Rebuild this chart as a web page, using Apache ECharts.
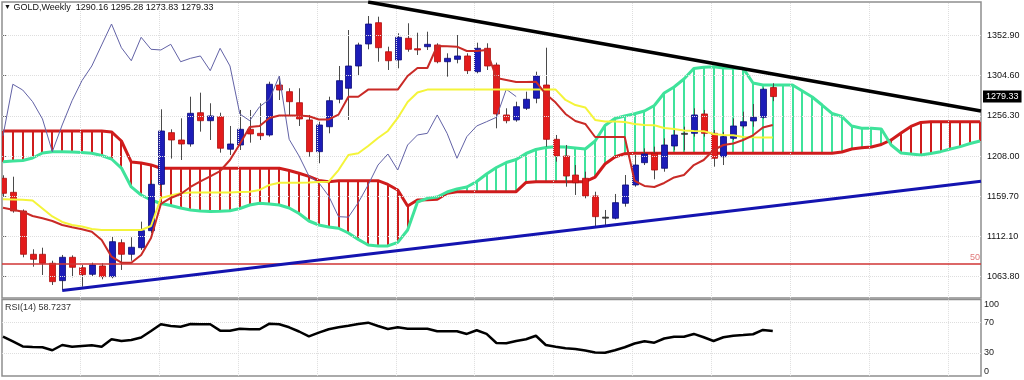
<!DOCTYPE html>
<html><head><meta charset="utf-8">
<script src="https://cdn.jsdelivr.net/npm/echarts@6/dist/echarts.min.js"></script>
<style>html,body{margin:0;padding:0;background:#fff}#c{width:1024px;height:380px}</style>
</head><body><div id="c"></div>
<script>
// ---------- DATA ----------
const symbolName = 'GOLD,Weekly';
const opens = [1181.4,1164.6,1142.2,1090.3,1090.3,1079.5,1058.7,1086.7,1074.2,1066.3,
1076.3,1063.5,1104.2,1090.3,1098.2,1118.6,1174.2,1236.1,1227.3,1222.5,
1260.0,1250.4,1255.2,1216.2,1221.3,1240.1,1235.3,1233.3,1293.2,1285.2,
1272.0,1251.3,1213.3,1243.2,1276.1,1289.3,1316.0,1342.4,1367.9,1333.1,
1323.2,1349.2,1336.7,1339.1,1341.2,1321.1,1324.0,1328.0,1309.2,1337.2,
1317.2,1257.3,1251.3,1265.3,1277.3,1293.2,1228.1,1208.1,1185.3,1181.4,
1160.2,1134.6,1133.5,1151.4,1173.4,1200.1,1211.3,1193.4,1220.1,1234.5,
1235.3,1258.5,1235.3,1207.3,1229.3,1244.1,1250.1,1254.5,1290.16];
const highs = [1185.0,1183.3,1144.0,1096.3,1098.2,1082.6,1089.5,1089.0,1077.5,1080.3,
1079.5,1112.2,1108.3,1110.7,1129.4,1179.4,1264.1,1240.1,1253.3,1279.2,
1284.0,1271.3,1260.0,1244.1,1263.3,1263.3,1271.3,1297.2,1304.0,1289.3,
1289.3,1257.3,1249.2,1279.2,1316.0,1359.1,1343.9,1375.9,1375.1,1339.1,
1355.2,1367.2,1355.9,1357.1,1343.2,1331.2,1353.1,1331.2,1343.9,1343.2,
1320.0,1265.3,1273.2,1285.2,1309.2,1337.9,1233.3,1221.3,1197.3,1189.3,
1165.3,1143.4,1162.6,1185.3,1209.3,1217.3,1219.3,1229.3,1241.3,1243.2,
1265.3,1263.3,1239.3,1237.0,1253.3,1261.2,1270.4,1290.0,1295.28];
const lows = [1160.0,1140.2,1086.7,1075.4,1065.5,1053.5,1047.5,1062.7,1051.5,1063.5,
1060.3,1061.5,1071.5,1082.6,1095.5,1115.5,1165.0,1205.0,1203.3,1219.3,
1237.3,1227.3,1212.1,1209.3,1215.3,1224.1,1227.3,1231.3,1275.2,1256.1,
1244.1,1207.3,1199.4,1235.3,1271.3,1251.3,1305.2,1336.0,1321.1,1311.2,
1313.2,1333.1,1329.2,1335.2,1319.2,1303.2,1319.2,1306.4,1307.2,1311.2,
1241.3,1247.3,1249.2,1263.3,1271.3,1219.3,1201.3,1171.3,1161.4,1157.4,
1122.7,1125.4,1132.2,1147.4,1171.3,1197.3,1180.2,1189.3,1215.0,1215.0,
1231.3,1231.3,1195.3,1197.3,1227.3,1241.3,1243.2,1253.0,1273.83];
const closes = [1163.4,1142.2,1090.3,1084.3,1079.5,1057.5,1086.7,1074.7,1065.9,1077.5,
1063.5,1105.4,1090.3,1098.7,1118.6,1174.2,1238.1,1227.3,1222.5,1259.3,
1250.4,1256.1,1217.4,1222.5,1240.1,1234.5,1232.4,1294.1,1287.2,1273.2,
1252.5,1213.3,1245.3,1274.4,1298.4,1316.0,1341.2,1366.3,1337.9,1322.3,
1350.4,1336.0,1335.2,1342.0,1321.1,1325.2,1328.0,1310.4,1337.2,1316.0,
1258.5,1250.4,1267.2,1276.1,1304.0,1228.1,1208.1,1184.1,1176.1,1160.2,
1135.4,1134.8,1152.2,1173.4,1197.3,1210.5,1191.3,1221.3,1233.3,1235.3,
1257.3,1235.3,1205.4,1231.3,1244.1,1249.2,1254.5,1288.1,1279.33];
const tenkan = [1146.2,1143.8,1141.4,1136.2,1133.5,1130.2,1125.4,1122.7,1120.3,1117.4,
1107.5,1087.4,1080.2,1080.2,1089.5,1109.9,1150.6,1157.8,1162.6,1171.0,
1177.6,1183.6,1190.1,1203.3,1222.5,1242.9,1244.1,1253.7,1256.7,1256.7,
1256.7,1255.7,1251.9,1251.9,1257.7,1279.2,1279.2,1287.7,1287.7,1287.7,
1287.7,1304.0,1313.6,1313.6,1340.0,1339.6,1339.2,1334.0,1334.0,1335.2,
1301.6,1299.2,1296.8,1296.8,1297.2,1282.4,1272.2,1258.5,1250.1,1246.5,
1230.9,1230.9,1230.9,1230.9,1178.2,1172.2,1171.0,1175.8,1182.4,1185.3,
1197.3,1203.3,1215.3,1221.3,1223.1,1227.3,1232.9,1242.3,1245.3];
const kijun = [1156.2,1156.0,1155.8,1154.8,1145.2,1135.6,1129.0,1125.4,1123.6,1120.6,
1119.4,1119.4,1119.4,1119.4,1119.4,1124.2,1157.8,1160.8,1163.4,1164.4,
1164.4,1164.4,1164.4,1164.4,1165.0,1165.3,1167.4,1173.4,1176.1,1176.1,
1176.1,1176.4,1176.9,1177.3,1191.3,1209.3,1211.4,1220.1,1229.7,1238.1,
1253.7,1272.9,1284.2,1287.7,1287.7,1287.7,1287.7,1287.7,1287.7,1287.7,
1287.7,1287.7,1287.7,1287.7,1287.7,1287.7,1287.7,1275.3,1269.2,1266.3,
1251.3,1249.4,1249.4,1248.9,1246.5,1245.3,1244.9,1241.7,1240.5,1238.7,
1238.1,1237.9,1234.5,1233.3,1232.9,1230.9,1230.5,1230.3,1230.2];
// cloud boundaries (already shifted forward, bars 0..99)
const spanRed = [1238.1,1238.1,1238.1,1238.1,1238.1,1238.1,1238.1,1238.1,1238.1,1238.1,
1238.1,1236.9,1226.1,1200.9,1199.8,1197.4,1193.4,1193.4,1193.4,1193.4,
1193.4,1193.4,1193.4,1193.4,1193.4,1193.4,1193.4,1193.4,1193.4,1190.8,
1187.4,1183.6,1178.8,1177.3,1178.5,1178.5,1178.5,1178.5,1178.5,1174.0,
1167.4,1148.2,1155.4,1155.8,1156.2,1163.4,1165.3,1165.3,1165.3,1165.3,
1165.3,1165.3,1165.3,1176.4,1177.3,1177.3,1177.3,1177.3,1177.3,1177.3,
1182.9,1198.5,1206.9,1210.9,1211.4,1211.4,1211.4,1211.4,1211.4,1211.4,
1211.4,1211.4,1211.4,1211.4,1211.4,1211.4,1211.4,1211.4,1211.4,1211.4,
1211.4,1211.4,1211.4,1211.4,1211.4,1212.9,1216.5,1218.0,1218.9,1221.9,
1227.3,1235.7,1243.5,1248.3,1249.2,1249.2,1249.2,1249.2,1249.2,1249.2];
const spanGreen = [1201.3,1202.1,1202.7,1205.7,1211.7,1213.3,1213.3,1212.9,1212.3,1211.4,
1208.7,1204.5,1193.7,1171.0,1161.4,1155.4,1151.2,1148.8,1145.8,1143.4,
1142.2,1141.6,1141.9,1142.4,1145.2,1149.4,1151.4,1150.6,1149.4,1145.8,
1139.2,1130.2,1125.4,1123.0,1121.5,1115.8,1108.1,1101.5,1100.3,1100.3,
1104.5,1119.4,1153.0,1157.4,1159.0,1165.0,1168.6,1171.0,1177.6,1186.6,
1194.3,1200.3,1203.9,1211.1,1215.9,1218.3,1219.3,1218.9,1217.7,1216.5,
1226.1,1244.7,1253.1,1256.1,1258.7,1262.1,1268.7,1283.6,1290.8,1300.4,
1313.0,1314.6,1315.2,1313.6,1313.2,1313.2,1295.6,1293.2,1293.2,1293.2,
1293.2,1286.0,1278.8,1269.2,1259.1,1255.5,1244.1,1241.3,1241.3,1240.5,
1221.3,1211.7,1210.5,1209.3,1211.1,1213.3,1216.5,1219.3,1223.1,1226.1];
const rsi = [51.4,45.1,38.6,37.9,37.5,33.6,40.5,38.3,39.2,40.1,
38.3,48.0,45.8,47.1,50.4,58.9,67.7,65.4,64.5,68.1,
67.7,67.7,59.3,59.3,61.9,61.1,61.1,68.5,67.7,63.7,
58.2,51.7,56.7,61.1,63.7,65.7,68.1,69.8,65.4,61.5,
63.7,61.9,61.9,61.9,58.5,58.5,58.5,55.0,59.8,55.0,
43.1,42.8,45.8,48.0,52.6,40.5,38.3,36.2,35.3,33.3,
30.7,30.4,33.6,37.5,42.5,45.5,43.5,49.0,51.4,51.4,
55.0,50.6,45.8,50.6,52.7,53.6,54.6,60.2,58.7237];
const chikouShift = 26;                       // Ichimoku lagging span period
const resistanceLine = [[37, 1392.7], [99.1, 1262.1]];
const supportLine = [[6, 1046.9], [99.1, 1177.8]];
const levelPrice = 1079.5;
const levelName = '50';
const priceTicks = [1352.90, 1304.60, 1256.30, 1208.00, 1159.70, 1112.10, 1063.80];
const rsiTicks = [0, 30, 70, 100];
const rsiLevels = [30, 70];
const gridBars = [7.8, 15.8, 23.8, 31.8, 39.8, 47.8, 55.8, 63.8, 71.8, 79.8, 87.8, 95.8];

// ---------- BUILD ----------
const FONT = "Tahoma, 'Liberation Sans', Arial, sans-serif";
const XMIN = -0.1, XMAX = 99.1;
const last = closes.length - 1;
const header = symbolName + '  ' + [opens[last], highs[last], lows[last], closes[last]].map(v => v.toFixed(2)).join(' ');
const idx = a => a.map((v, i) => [i, v]);
const candleData = opens.map((o, i) => [i, o, highs[i], lows[i], closes[i]]);
const cloudData = spanRed.map((a, i) => [i, a, spanGreen[i]]);
const chikouData = closes.slice(chikouShift).map((v, i) => [i, v]);

const RED_C = '#cf1c1c', GREEN_C = '#3fe39b';
const gridStyle = {type: 'dotted', color: '#dedede', width: 1};
const gridMarks = h => h.map(v => ({yAxis: v})).concat(gridBars.map(b => ({xAxis: b})));

const chart = echarts.init(document.getElementById('c'), null, {renderer: 'canvas'});
chart.setOption({
  animation: false,
  backgroundColor: '#fff',
  textStyle: {fontFamily: FONT},
  title: [
    {left: 4, top: 3, padding: 0, text: '{t|▼} ' + header,
     textStyle: {fontSize: 9, fontWeight: 'normal', color: '#111', fontFamily: FONT,
       rich: {t: {fontSize: 7, color: '#111'}}}},
    {left: 5, top: 303, padding: 0, text: 'RSI(14) ' + rsi[last].toFixed(4),
     textStyle: {fontSize: 9, fontWeight: 'normal', color: '#333', fontFamily: FONT}}
  ],
  grid: [
    {left: 2, right: 43, top: 2, height: 296, show: true, borderColor: '#8e8e8e', borderWidth: 1.5},
    {left: 2, right: 43, top: 299.6, height: 76.3, show: true, borderColor: '#8e8e8e', borderWidth: 1.5}
  ],
  xAxis: [
    {type: 'value', gridIndex: 0, min: XMIN, max: XMAX, show: false},
    {type: 'value', gridIndex: 1, min: XMIN, max: XMAX, show: false}
  ],
  yAxis: [
    {type: 'value', gridIndex: 0, position: 'right', min: 1037.9, max: 1392.7,
     axisLine: {show: false}, splitLine: {show: false},
     axisTick: {show: true, customValues: priceTicks, length: 4, lineStyle: {color: '#666'}},
     axisLabel: {customValues: priceTicks, formatter: v => v.toFixed(2), color: '#111',
       fontSize: 9, fontFamily: FONT, margin: 6}},
    {type: 'value', gridIndex: 1, position: 'right', min: 0, max: 100, interval: 10,
     axisLine: {show: false}, splitLine: {show: false}, axisTick: {show: false},
     axisLabel: {formatter: v => rsiTicks.indexOf(v) >= 0 ? String(v) : '',
       showMinLabel: true, showMaxLabel: true,
       verticalAlignMinLabel: 'bottom', verticalAlignMaxLabel: 'top',
       color: '#222', fontSize: 9, fontFamily: FONT, margin: 3}}
  ],
  series: [
    {name: 'grid', type: 'line', xAxisIndex: 0, yAxisIndex: 0, data: [], silent: true, z: 1,
     markLine: {silent: true, symbol: ['none', 'none'], label: {show: false}, lineStyle: gridStyle, data: gridMarks(priceTicks)}},
    {name: 'rsiGrid', type: 'line', xAxisIndex: 1, yAxisIndex: 1, data: [], silent: true, z: 1,
     markLine: {silent: true, symbol: ['none', 'none'], label: {show: false}, lineStyle: gridStyle, data: gridMarks(rsiLevels)}},
    {name: 'cloud', type: 'custom', xAxisIndex: 0, yAxisIndex: 0, clip: true, z: 2, silent: true,
     data: cloudData, encode: {x: 0, y: [1, 2]},
     renderItem: function (params, api) {
       const i = api.value(0), a = api.value(1), b = api.value(2);
       const pa = api.coord([i, a]), pb = api.coord([i, b]);
       const x = Math.round(pa[0]);
       return {type: 'line', shape: {x1: x, y1: pa[1], x2: x, y2: pb[1]},
         style: {stroke: a >= b ? RED_C : GREEN_C, lineWidth: 2}};
     }},
    {name: 'spanRed', type: 'line', xAxisIndex: 0, yAxisIndex: 0, data: idx(spanRed), symbol: 'none',
     lineStyle: {color: RED_C, width: 3}, z: 3},
    {name: 'spanGreen', type: 'line', xAxisIndex: 0, yAxisIndex: 0, data: idx(spanGreen), symbol: 'none',
     lineStyle: {color: GREEN_C, width: 3}, z: 3},
    {name: 'candles', type: 'custom', xAxisIndex: 0, yAxisIndex: 0, clip: true, z: 4,
     data: candleData, encode: {x: 0, y: [1, 2, 3, 4]},
     renderItem: function (params, api) {
       const i = api.value(0), o = api.value(1), h = api.value(2), l = api.value(3), c = api.value(4);
       const pO = api.coord([i, o]), pC = api.coord([i, c]), pH = api.coord([i, h]), pL = api.coord([i, l]);
       const x = Math.round(pO[0]) + 0.5;
       const bull = c >= o;
       const top = Math.min(pO[1], pC[1]), bot = Math.max(pO[1], pC[1]);
       const bw = 6;
       const doji = Math.abs(c - o) < 1.5;
       return {type: 'group', children: [
         {type: 'line', shape: {x1: x, y1: pH[1], x2: x, y2: pL[1]}, style: {stroke: '#4a4a4a', lineWidth: 1}},
         {type: 'rect', shape: {x: x - bw / 2, y: top, width: bw, height: Math.max(bot - top, 1)},
          style: {fill: doji ? '#333' : (bull ? '#1c1cb8' : '#e31b1b'),
                  stroke: doji ? '#333' : (bull ? '#0c0c78' : '#b01010'), lineWidth: 0.8}}
       ]};
     }},
    {name: 'chikou', type: 'line', xAxisIndex: 0, yAxisIndex: 0, data: chikouData, symbol: 'none',
     lineStyle: {color: '#6262a6', width: 1}, z: 5},
    {name: 'kijun', type: 'line', xAxisIndex: 0, yAxisIndex: 0, data: idx(kijun), symbol: 'none',
     lineStyle: {color: '#f4f43a', width: 2}, z: 5},
    {name: 'tenkan', type: 'line', xAxisIndex: 0, yAxisIndex: 0, data: idx(tenkan), symbol: 'none',
     lineStyle: {color: '#c92a26', width: 2}, z: 5},
    {name: 'level', type: 'line', xAxisIndex: 0, yAxisIndex: 0, data: [], z: 6,
     markLine: {silent: true, symbol: ['none', 'none'], data: [{yAxis: levelPrice}],
       lineStyle: {type: 'solid', color: '#d03434', width: 1.5},
       label: {show: true, position: 'insideEndTop', formatter: levelName, color: '#e07a7a',
         fontSize: 9, fontFamily: FONT, distance: [1, 1]}}},
    {name: 'resistance', type: 'line', xAxisIndex: 0, yAxisIndex: 0, data: resistanceLine, symbol: 'none',
     lineStyle: {color: '#000', width: 3.5}, z: 7},
    {name: 'support', type: 'line', xAxisIndex: 0, yAxisIndex: 0, data: supportLine, symbol: 'none',
     lineStyle: {color: '#1414b0', width: 3}, z: 7},
    {name: 'lastPrice', type: 'line', xAxisIndex: 0, yAxisIndex: 0, data: [], z: 8,
     markLine: {silent: true, symbol: ['none', 'none'], data: [{yAxis: closes[last]}],
       lineStyle: {color: 'rgba(0,0,0,0)', width: 0, opacity: 1},
       label: {show: true, position: 'end', distance: 2, formatter: p => Number(p.value).toFixed(2),
         color: '#fff', backgroundColor: '#000', padding: [2, 3, 1, 3], fontSize: 9, fontFamily: FONT, opacity: 1}}},
    {name: 'rsi', type: 'line', xAxisIndex: 1, yAxisIndex: 1, data: idx(rsi), symbol: 'none',
     lineStyle: {color: '#000', width: 2.5}, z: 5}
  ]
});
</script></body></html>
